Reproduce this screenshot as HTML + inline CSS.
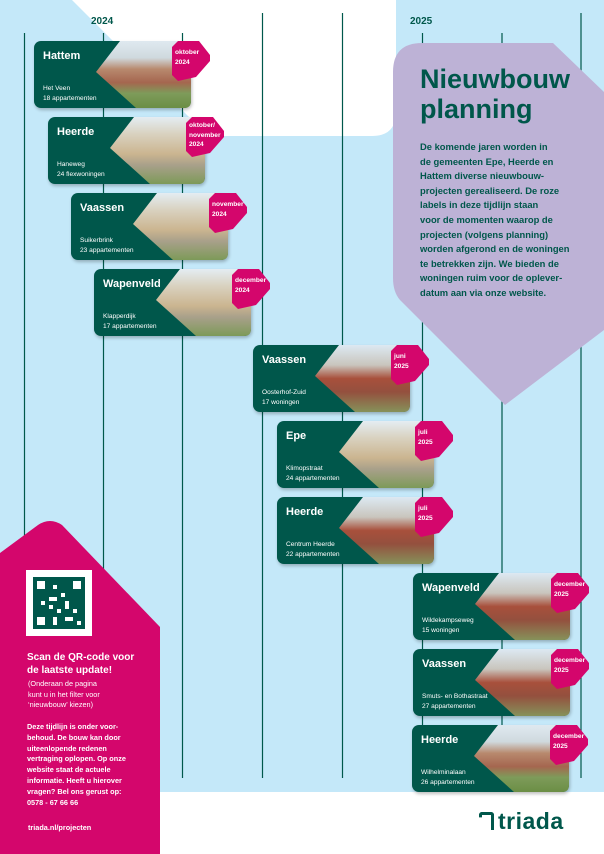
<!DOCTYPE html>
<html><head><meta charset="utf-8"><style>
*{margin:0;padding:0;box-sizing:border-box}
body{width:604px;height:854px;overflow:hidden;position:relative;background:#fff;font-family:"Liberation Sans",sans-serif}
svg.bg{position:absolute;left:0;top:0}
.card{position:absolute;width:157px;height:67px;background:#00574b;border-radius:7px;color:#fff;box-shadow:1px 2px 3px rgba(0,0,0,.25)}
.card .t{position:absolute;left:9px;top:9px;font-size:11px;font-weight:bold}
.card .s{position:absolute;left:9px;top:43px;font-size:6.6px;line-height:9.5px;white-space:nowrap;z-index:2}
.card svg.im{position:absolute;left:62px;top:0;width:95px;height:67px}
.tag{position:absolute;right:-19px;top:0;width:38px;height:40px;background:#d4066c;clip-path:polygon(6px 0,27px 0,38px 14px,38px 20px,24px 36px,6px 40px,0 34px,0 6px);border-radius:6px 0 0 6px;font-size:6.6px;line-height:9.5px;font-weight:bold;padding:7px 0 0 3px;white-space:nowrap}
.yr{position:absolute;font-size:10px;font-weight:bold;color:#00574b}
</style></head><body>
<svg width="0" height="0" style="position:absolute"><defs>
<linearGradient id="ga" x1="0" y1="0" x2="0" y2="1"><stop offset="0" stop-color="#dfe9f0"/><stop offset=".25" stop-color="#cfd9de"/><stop offset=".42" stop-color="#b8896e"/><stop offset=".62" stop-color="#a5664f"/><stop offset=".78" stop-color="#7e9b5a"/><stop offset="1" stop-color="#6b8e45"/></linearGradient>
<linearGradient id="gb" x1="0" y1="0" x2="0" y2="1"><stop offset="0" stop-color="#e4edf2"/><stop offset=".25" stop-color="#d9d2c0"/><stop offset=".55" stop-color="#cbb590"/><stop offset=".72" stop-color="#a8a08a"/><stop offset="1" stop-color="#7d9a58"/></linearGradient>
<linearGradient id="gc" x1="0" y1="0" x2="0" y2="1"><stop offset="0" stop-color="#dde9f2"/><stop offset=".3" stop-color="#c9c5bd"/><stop offset=".5" stop-color="#a8503c"/><stop offset=".7" stop-color="#94503e"/><stop offset="1" stop-color="#86925a"/></linearGradient>
</defs></svg>
<svg class="bg" width="604" height="854" viewBox="0 0 604 854">
<rect x="0" y="0" width="604" height="792" fill="#c4e8f9"/>
<path d="M72 0 L396 0 L396 112 Q396 136 372 136 L208 136 Z" fill="#fff"/>
<g stroke="#00584b" stroke-width="1.2">
<line x1="24.5" y1="33" x2="24.5" y2="778"/>
<line x1="103.5" y1="33" x2="103.5" y2="778"/>
<line x1="182.5" y1="33" x2="182.5" y2="778"/>
<line x1="262.5" y1="13" x2="262.5" y2="778"/>
<line x1="342.5" y1="13" x2="342.5" y2="778"/>
<line x1="422.5" y1="33" x2="422.5" y2="778"/>
<line x1="502" y1="33" x2="502" y2="778"/>
<line x1="581" y1="13" x2="581" y2="778"/>
</g>
<path d="M393 72 Q393 43 422 43 L553 43 L604 92 L604 330 L505 405 L400 300 Q393 292 393 278 Z" fill="#bdb2d6"/>
<path d="M0 553 L38 525 Q50 517 62 525 L160 627 L160 854 L0 854 Z" fill="#d4066c"/>
</svg>

<div class="yr" style="left:91px;top:16px">2024</div>
<div class="yr" style="left:410px;top:16px">2025</div>

<div style="position:absolute;left:420px;top:64px;font-size:27px;line-height:30px;font-weight:bold;color:#00574b">Nieuwbouw<br>planning</div>
<div style="position:absolute;left:420px;top:140px;width:184px;font-size:9.4px;line-height:14.6px;font-weight:bold;color:#00574b;white-space:nowrap">De komende jaren worden in<br>de gemeenten Epe, Heerde en<br>Hattem diverse nieuwbouw-<br>projecten gerealiseerd. De roze<br>labels in deze tijdlijn staan<br>voor de momenten waarop de<br>projecten (volgens planning)<br>worden afgerond en de woningen<br>te betrekken zijn. We bieden de<br>woningen ruim voor de oplever-<br>datum aan via onze website.</div>

<div class="card" style="left:34px;top:41px"><div class="t">Hattem</div><svg class="im" viewBox="0 0 95 67"><path d="M24 0 H88 Q95 0 95 7 V60 Q95 67 88 67 H40 L0 31 Z" fill="url(#ga)"/></svg><div class="s">Het Veen<br>18 appartementen</div><div class="tag">oktober<br>2024</div></div>
<div class="card" style="left:48px;top:117px"><div class="t">Heerde</div><svg class="im" viewBox="0 0 95 67"><path d="M24 0 H88 Q95 0 95 7 V60 Q95 67 88 67 H40 L0 31 Z" fill="url(#gb)"/></svg><div class="s">Haneweg<br>24 flexwoningen</div><div class="tag" style="padding-top:4px">oktober/<br>november<br>2024</div></div>
<div class="card" style="left:71px;top:193px"><div class="t">Vaassen</div><svg class="im" viewBox="0 0 95 67"><path d="M24 0 H88 Q95 0 95 7 V60 Q95 67 88 67 H40 L0 31 Z" fill="url(#gb)"/></svg><div class="s">Suikerbrink<br>23 appartementen</div><div class="tag">november<br>2024</div></div>
<div class="card" style="left:94px;top:269px"><div class="t">Wapenveld</div><svg class="im" viewBox="0 0 95 67"><path d="M24 0 H88 Q95 0 95 7 V60 Q95 67 88 67 H40 L0 31 Z" fill="url(#gb)"/></svg><div class="s">Klapperdijk<br>17 appartementen</div><div class="tag">december<br>2024</div></div>
<div class="card" style="left:253px;top:345px"><div class="t">Vaassen</div><svg class="im" viewBox="0 0 95 67"><path d="M24 0 H88 Q95 0 95 7 V60 Q95 67 88 67 H40 L0 31 Z" fill="url(#gc)"/></svg><div class="s">Oosterhof-Zuid<br>17 woningen</div><div class="tag">juni<br>2025</div></div>
<div class="card" style="left:277px;top:421px"><div class="t">Epe</div><svg class="im" viewBox="0 0 95 67"><path d="M24 0 H88 Q95 0 95 7 V60 Q95 67 88 67 H40 L0 31 Z" fill="url(#gb)"/></svg><div class="s">Klimopstraat<br>24 appartementen</div><div class="tag">juli<br>2025</div></div>
<div class="card" style="left:277px;top:497px"><div class="t">Heerde</div><svg class="im" viewBox="0 0 95 67"><path d="M24 0 H88 Q95 0 95 7 V60 Q95 67 88 67 H40 L0 31 Z" fill="url(#gc)"/></svg><div class="s">Centrum Heerde<br>22 appartementen</div><div class="tag">juli<br>2025</div></div>
<div class="card" style="left:413px;top:573px"><div class="t">Wapenveld</div><svg class="im" viewBox="0 0 95 67"><path d="M24 0 H88 Q95 0 95 7 V60 Q95 67 88 67 H40 L0 31 Z" fill="url(#gc)"/></svg><div class="s">Wildekampseweg<br>15 woningen</div><div class="tag">december<br>2025</div></div>
<div class="card" style="left:413px;top:649px"><div class="t">Vaassen</div><svg class="im" viewBox="0 0 95 67"><path d="M24 0 H88 Q95 0 95 7 V60 Q95 67 88 67 H40 L0 31 Z" fill="url(#gc)"/></svg><div class="s">Smuts- en Bothastraat<br>27 appartementen</div><div class="tag">december<br>2025</div></div>
<div class="card" style="left:412px;top:725px"><div class="t">Heerde</div><svg class="im" viewBox="0 0 95 67"><path d="M24 0 H88 Q95 0 95 7 V60 Q95 67 88 67 H40 L0 31 Z" fill="url(#ga)"/></svg><div class="s">Wilhelminalaan<br>26 appartementen</div><div class="tag">december<br>2025</div></div>

<div style="position:absolute;left:26px;top:570px;width:66px;height:66px;background:#fff;padding:7px">
<svg width="52" height="52" viewBox="0 0 13 13"><rect width="13" height="13" fill="#00574b"/><g fill="#fff"><rect x="1" y="1" width="2" height="2"/><rect x="10" y="1" width="2" height="2"/><rect x="1" y="10" width="2" height="2"/><rect x="5" y="2" width="1" height="1"/><rect x="7" y="4" width="1" height="1"/><rect x="4" y="5" width="2" height="1"/><rect x="8" y="6" width="1" height="2"/><rect x="2" y="6" width="1" height="1"/><rect x="6" y="8" width="1" height="1"/><rect x="10" y="8" width="1" height="1"/><rect x="5" y="10" width="1" height="2"/><rect x="8" y="10" width="2" height="1"/><rect x="11" y="11" width="1" height="1"/><rect x="4" y="7" width="1" height="1"/></g></svg></div>
<div style="position:absolute;left:27px;top:651px;font-size:10px;line-height:13px;font-weight:bold;color:#fff;white-space:nowrap">Scan de QR-code voor<br>de laatste update!</div>
<div style="position:absolute;left:28px;top:679px;font-size:7.3px;line-height:10.5px;color:#fff;white-space:nowrap">(Onderaan de pagina<br>kunt u in het filter voor<br>‘nieuwbouw’ kiezen)</div>
<div style="position:absolute;left:27px;top:722px;font-size:7.3px;line-height:10.8px;font-weight:bold;color:#fff;white-space:nowrap">Deze tijdlijn is onder voor-<br>behoud. De bouw kan door<br>uiteenlopende redenen<br>vertraging oplopen. Op onze<br>website staat de actuele<br>informatie. Heeft u hierover<br>vragen? Bel ons gerust op:<br>0578 - 67 66 66</div>
<div style="position:absolute;left:28px;top:823px;font-size:7.3px;font-weight:bold;color:#fff">triada.nl/projecten</div>

<div style="position:absolute;left:479px;top:808px;font-size:23px;font-weight:bold;color:#00574b;letter-spacing:0.5px">
<span style="display:inline-block;width:15px;height:18px;border:3px solid #00574b;border-bottom:none;border-radius:3px 3px 0 0;vertical-align:-1px;margin-right:4px;clip-path:polygon(0 0,100% 0,100% 100%,70% 100%,70% 30%,0 30%)"></span>triada</div>
</body></html>
